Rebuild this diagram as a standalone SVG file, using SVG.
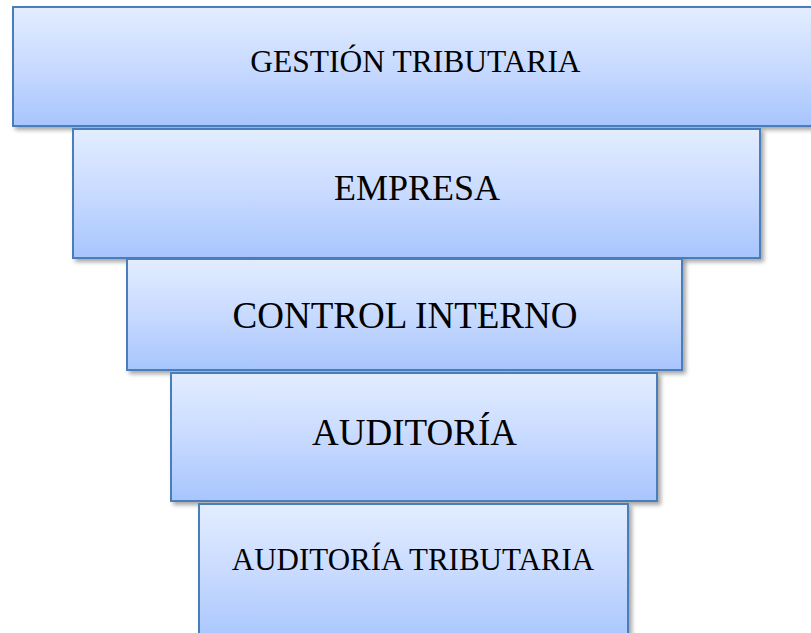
<svg xmlns="http://www.w3.org/2000/svg" width="811" height="633" viewBox="0 0 811 633">
  <defs>
    <linearGradient id="g" x1="0" y1="0" x2="0" y2="1">
      <stop offset="0" stop-color="#e3edff"/>
      <stop offset="0.5" stop-color="#c8daff"/>
      <stop offset="1" stop-color="#a7c5fd"/>
    </linearGradient>
    <filter id="sh" x="-10%" y="-10%" width="120%" height="130%">
      <feDropShadow dx="3" dy="3" stdDeviation="2" flood-color="#000" flood-opacity="0.35"/>
    </filter>
    <style>
      .box { fill: url(#g); stroke: #4a7ebb; stroke-width: 2; filter: url(#sh); }
      .lbl { font-family: "Liberation Serif", "Times New Roman", serif; fill: #000; text-anchor: middle; }
    </style>
  </defs>
  <rect width="811" height="633" fill="#fff"/>
  <g id="connectors"></g>
  <g id="gestion">
    <rect class="box" x="13" y="7" width="820" height="119"/>
    <text class="lbl" x="415.5" y="72" font-size="31.5">GESTIÓN TRIBUTARIA</text>
  </g>
  <g id="empresa">
    <rect class="box" x="73" y="129" width="687" height="129"/>
    <text class="lbl" x="417" y="200" font-size="36">EMPRESA</text>
  </g>
  <g id="control">
    <rect class="box" x="127" y="259" width="555" height="111"/>
    <text class="lbl" x="405" y="328" font-size="37">CONTROL INTERNO</text>
  </g>
  <g id="auditoria">
    <rect class="box" x="171" y="373" width="486" height="128"/>
    <text class="lbl" x="414.5" y="445" font-size="37">AUDITORÍA</text>
  </g>
  <g id="auditoria-tributaria">
    <rect class="box" x="199" y="504" width="429" height="140"/>
    <text class="lbl" x="413" y="570" font-size="31">AUDITORÍA TRIBUTARIA</text>
  </g>
</svg>
